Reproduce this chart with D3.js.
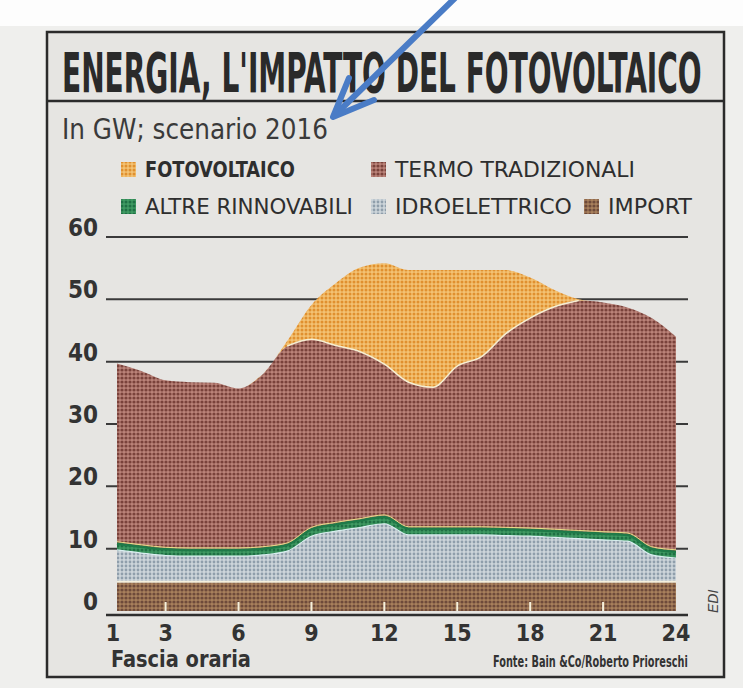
<!DOCTYPE html>
<html>
<head>
<meta charset="utf-8">
<script src="https://cdn.jsdelivr.net/npm/d3@7"></script>
<style>
  html, body { margin: 0; padding: 0; background: #f1f1ef; }
  svg { display: block; }
</style>
</head>
<body>
<div id="chart"></div>
<script>
// Fasce orarie e valori (GW)
const hours = [1, 2, 3, 4, 5, 6, 7, 8, 9, 10, 11, 12, 13, 14, 15, 16, 17, 18, 19, 20, 21, 22, 23, 24];
const importGW = [4.7, 4.7, 4.7, 4.7, 4.7, 4.7, 4.7, 4.7, 4.7, 4.7, 4.7, 4.7, 4.7, 4.7, 4.7, 4.7, 4.7, 4.7, 4.7, 4.7, 4.7, 4.7, 4.7, 4.7];
const idro = [5.1, 4.6, 4.2, 4.1, 4.1, 4.1, 4.3, 4.9, 7.3, 8.1, 8.7, 9.3, 7.5, 7.5, 7.5, 7.5, 7.4, 7.3, 7.1, 6.9, 6.7, 6.5, 4.3, 3.8];
const altre = [1.0, 1.0, 1.0, 1.0, 1.0, 1.0, 1.0, 1.0, 1.1, 1.1, 1.1, 1.1, 1.0, 1.0, 1.0, 1.0, 1.0, 1.0, 1.0, 1.0, 1.0, 1.0, 1.0, 1.0];
const termo = [28.9, 28.2, 27.1, 26.9, 26.8, 25.9, 28.0, 31.9, 30.5, 28.7, 27.1, 24.5, 23.5, 22.7, 26.1, 27.6, 31.4, 34.0, 36.0, 37.2, 37.1, 36.5, 37.0, 34.5];
const foto = [0, 0, 0, 0, 0, 0, 0, 0.8, 5.5, 10.0, 13.5, 16.2, 18.0, 18.8, 15.4, 13.9, 10.2, 6.5, 2.7, 0.2, 0, 0, 0, 0];

const xTicks = [1, 3, 6, 9, 12, 15, 18, 21, 24];
const yTicks = [0, 10, 20, 30, 40, 50, 60];

const W = 743, H = 688;
const narrow = '"Liberation Sans Narrow", "DejaVu Sans Condensed", "Liberation Sans", sans-serif';

const svg = d3.select('#chart').append('svg')
    .attr('width', W)
    .attr('height', H);

// squeeze a text horizontally to a given width (condensed newspaper type)
function fit(t, width) {
    const w = t.node().getComputedTextLength();
    const x0 = +t.attr('x');
    t.attr('transform', `translate(${x0},0) scale(${width / w},1) translate(${-x0},0)`);
    return t;
}

// halftone patterns, like the newspaper print
const defs = svg.append('defs');
function dots(id, bg, dot, r) {
    const p = defs.append('pattern')
        .attr('id', id)
        .attr('width', 4).attr('height', 4)
        .attr('patternUnits', 'userSpaceOnUse');
    p.append('rect').attr('width', 4).attr('height', 4).attr('fill', bg);
    p.append('circle').attr('cx', 2).attr('cy', 2).attr('r', r).attr('fill', dot);
}
dots('p-foto', '#f3c274', '#e0902f', 1.5);
dots('p-termo', '#bb8379', '#7a423b', 1.6);
dots('p-idro', '#cdd5da', '#8f9eab', 1.4);
dots('p-altre', '#3f9a62', '#1f7044', 1.5);
dots('p-import', '#a8805c', '#6e4a3a', 1.6);

// paper
svg.append('rect').attr('width', W).attr('height', H).attr('fill', '#efefed');
svg.append('rect').attr('width', W).attr('height', 26).attr('fill', '#fdfdfd');
svg.append('rect')
    .attr('x', 47).attr('y', 32)
    .attr('width', 677).attr('height', 645)
    .attr('fill', '#e6e5e2')
    .attr('stroke', '#2b2b2b')
    .attr('stroke-width', 2.5);
svg.append('line')
    .attr('x1', 47).attr('x2', 724)
    .attr('y1', 101).attr('y2', 101)
    .attr('stroke', '#2b2b2b').attr('stroke-width', 2.5);

// title and subtitle
fit(svg.append('text')
    .attr('x', 62).attr('y', 92)
    .attr('font-family', narrow)
    .attr('font-weight', 'bold')
    .attr('font-size', 56)
    .attr('fill', '#2a2a2a')
    .text("ENERGIA, L'IMPATTO DEL FOTOVOLTAICO"), 640);

fit(svg.append('text')
    .attr('x', 62).attr('y', 139)
    .attr('font-family', narrow)
    .attr('font-size', 28)
    .attr('fill', '#3a3a3a')
    .text('In GW; scenario 2016'), 266);

// legend
const legend = [
    { label: 'FOTOVOLTAICO', fill: 'url(#p-foto)', x: 121, y: 177, w: 150, bold: true },
    { label: 'TERMO TRADIZIONALI', fill: 'url(#p-termo)', x: 371, y: 177, w: 240, bold: false },
    { label: 'ALTRE RINNOVABILI', fill: 'url(#p-altre)', x: 121, y: 214, w: 208, bold: false },
    { label: 'IDROELETTRICO', fill: 'url(#p-idro)', x: 371, y: 214, w: 177, bold: false },
    { label: 'IMPORT', fill: 'url(#p-import)', x: 584, y: 214, w: 84, bold: false }
];
const lg = svg.append('g');
legend.forEach(d => {
    lg.append('rect')
        .attr('x', d.x).attr('y', d.y - 15)
        .attr('width', 15).attr('height', 15)
        .attr('fill', d.fill);
    fit(lg.append('text')
        .attr('x', d.x + 24).attr('y', d.y)
        .attr('font-family', narrow)
        .attr('font-weight', d.bold ? 'bold' : 'normal')
        .attr('font-size', 22)
        .attr('fill', '#2e2e2e')
        .text(d.label), d.w);
});

// scales
const x = d3.scaleLinear().domain([1, 24]).range([117, 676]);
const y = d3.scaleLinear().domain([0, 60]).range([611, 237]);

// gridlines
svg.append('g').selectAll('line')
    .data(yTicks.filter(v => v > 0))
    .join('line')
    .attr('x1', 106).attr('x2', 688)
    .attr('y1', d => y(d)).attr('y2', d => y(d))
    .attr('stroke', '#3a3a3a')
    .attr('stroke-width', 2);

// stacked areas
const keys = ['import', 'idro', 'altre', 'termo', 'foto'];
const table = hours.map((h, i) => ({
    hour: h,
    import: importGW[i],
    idro: idro[i],
    altre: altre[i],
    termo: termo[i],
    foto: foto[i]
}));
const series = d3.stack().keys(keys)(table);
const fills = {
    import: 'url(#p-import)',
    idro: 'url(#p-idro)',
    altre: 'url(#p-altre)',
    termo: 'url(#p-termo)',
    foto: 'url(#p-foto)'
};

const area = d3.area()
    .x(d => x(d.data.hour))
    .y0(d => y(d[0]))
    .y1(d => y(d[1]))
    .curve(d3.curveMonotoneX);

svg.append('g').selectAll('path')
    .data(series)
    .join('path')
    .attr('d', area)
    .attr('fill', d => fills[d.key]);

// separator lines between layers
const upper = d3.line()
    .x(d => x(d.data.hour))
    .y(d => y(d[1]))
    .curve(d3.curveMonotoneX);
const layerTop = key => upper(series.find(d => d.key === key));

svg.append('path').attr('d', layerTop('import'))
    .attr('fill', 'none').attr('stroke', '#f4efdc').attr('stroke-width', 2);
svg.append('path').attr('d', layerTop('idro'))
    .attr('fill', 'none').attr('stroke', '#d9eef0').attr('stroke-width', 1.2);
svg.append('path').attr('d', layerTop('altre'))
    .attr('fill', 'none').attr('stroke', '#1f7a48').attr('stroke-width', 2.5);
svg.append('path').attr('d', layerTop('altre'))
    .attr('fill', 'none').attr('stroke', '#e8df8a').attr('stroke-width', 1)
    .attr('transform', 'translate(0,-2)');

// pale line where the photovoltaic sits on the thermal layer
const termoS = series.find(d => d.key === 'termo');
svg.append('path')
    .attr('d', upper(termoS.filter(d => d.data.hour >= 8 && d.data.hour <= 20)))
    .attr('fill', 'none').attr('stroke', '#f6eed2').attr('stroke-width', 1.5);

// white ticks inside the import band
svg.append('g').selectAll('line')
    .data(xTicks.slice(1, -1))
    .join('line')
    .attr('x1', d => x(d)).attr('x2', d => x(d))
    .attr('y1', y(0)).attr('y2', y(0) - 9)
    .attr('stroke', '#f6f1dc').attr('stroke-width', 2);

// x axis line
svg.append('line')
    .attr('x1', 106).attr('x2', 688)
    .attr('y1', y(0) + 4).attr('y2', y(0) + 4)
    .attr('stroke', '#2e2e2e').attr('stroke-width', 2.5);

// axis labels
svg.append('g').selectAll('text')
    .data(yTicks)
    .join('text')
    .attr('x', 98)
    .attr('y', d => y(d) - 1)
    .attr('text-anchor', 'end')
    .attr('font-family', narrow)
    .attr('font-weight', 'bold')
    .attr('font-size', 24)
    .attr('fill', '#333')
    .text(d => d);

svg.append('g').selectAll('text')
    .data(xTicks)
    .join('text')
    .attr('x', d => x(d) - (d === 1 ? 4 : 0))
    .attr('y', 641)
    .attr('text-anchor', 'middle')
    .attr('font-family', narrow)
    .attr('font-weight', 'bold')
    .attr('font-size', 23)
    .attr('fill', '#333')
    .text(d => d);

fit(svg.append('text')
    .attr('x', 111).attr('y', 667)
    .attr('font-family', narrow)
    .attr('font-weight', 'bold')
    .attr('font-size', 23)
    .attr('fill', '#333')
    .text('Fascia oraria'), 140);

fit(svg.append('text')
    .attr('x', 493).attr('y', 667)
    .attr('font-family', narrow)
    .attr('font-weight', 'bold')
    .attr('font-size', 15)
    .attr('fill', '#333')
    .text('Fonte: Bain &Co/Roberto Prioreschi'), 195);

svg.append('text')
    .attr('transform', 'translate(718,613) rotate(-90)')
    .attr('font-family', '"Liberation Sans", sans-serif')
    .attr('font-style', 'italic')
    .attr('font-size', 14)
    .attr('fill', '#444')
    .text('EDI');

// blue annotation arrow
const arrow = svg.append('g')
    .attr('stroke', '#4a7cc6')
    .attr('stroke-width', 6)
    .attr('stroke-linecap', 'round')
    .attr('fill', 'none');
arrow.append('line').attr('x1', 455).attr('y1', -2).attr('x2', 336).attr('y2', 114);
arrow.append('polyline').attr('points', '349,78 333,117 374,100')
    .attr('stroke-linejoin', 'round');
</script>
</body>
</html>
